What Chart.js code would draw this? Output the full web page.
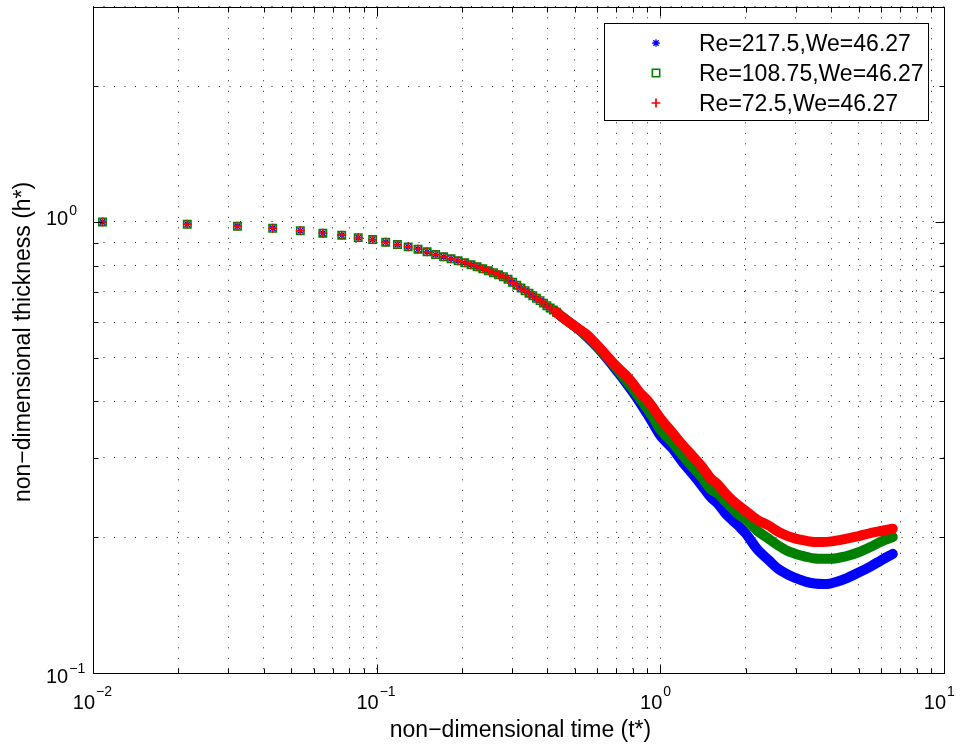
<!DOCTYPE html>
<html>
<head>
<meta charset="utf-8">
<title>non-dimensional thickness vs time</title>
<script src="https://cdn.jsdelivr.net/npm/chart.js@4.4.1/dist/chart.umd.min.js"></script>
<style>
html,body{margin:0;padding:0;background:#ffffff;overflow:hidden;}
#wrap{width:966px;height:747px;}
canvas{display:block;}
</style>
</head>
<body>
<div id="wrap"><canvas id="chart" width="966" height="747"></canvas></div>
<script>
// ---------------- data ----------------
const tStar = [
  0.0108, 0.0215, 0.0323, 0.0430, 0.0538, 0.0646, 0.0753, 0.0861, 0.0968, 0.1076,
  0.1184, 0.1291, 0.1399, 0.1506, 0.1614, 0.1722, 0.1829, 0.1937, 0.2044, 0.2152,
  0.2260, 0.2367, 0.2475, 0.2582, 0.2690, 0.2798, 0.2905, 0.3013, 0.3120, 0.3228,
  0.3336, 0.3443, 0.3551, 0.3658, 0.3766, 0.3874, 0.3981, 0.4089, 0.4196, 0.4304,
  0.45, 0.50,
  0.55, 0.60, 0.65, 0.70, 0.75, 0.80, 0.85, 0.90, 0.95, 1.00,
  1.1, 1.2, 1.3, 1.4, 1.5, 1.6, 1.7, 1.8, 1.9, 2.0,
  2.2, 2.4, 2.6, 2.8, 3.0,
  3.25, 3.5, 3.75, 4.0,
  4.5, 5.0, 5.5, 6.0, 6.6
];

const hRe217 = [
  1.000, 0.9884, 0.9784, 0.9685, 0.9567, 0.9442, 0.9347, 0.9233, 0.9140, 0.9020,
  0.8910, 0.8806, 0.8705, 0.8586, 0.8469, 0.8371, 0.8286, 0.8202, 0.8120, 0.8036,
  0.7956, 0.7875, 0.7796, 0.7717, 0.7638, 0.7561, 0.7465, 0.7352, 0.7241, 0.7139,
  0.7042, 0.6953, 0.6865, 0.6775, 0.6693, 0.6608, 0.6522, 0.6449, 0.6378, 0.6310,
  0.6163, 0.5867,
  0.5573, 0.5270, 0.4971, 0.4689, 0.4434, 0.4193, 0.3965, 0.3749, 0.3545, 0.3361,
  0.3153, 0.2932, 0.2760, 0.2604, 0.2461, 0.2368, 0.2256, 0.2177, 0.2110, 0.2040,
  0.1878, 0.1784, 0.1702, 0.1656, 0.1624,
  0.1594, 0.1579, 0.1575, 0.1581,
  0.1619, 0.1670, 0.1722, 0.1778, 0.1837
];

const hRe108 = [
  1.000, 0.9884, 0.9784, 0.9685, 0.9567, 0.9442, 0.9347, 0.9233, 0.9140, 0.9020,
  0.8910, 0.8806, 0.8705, 0.8586, 0.8469, 0.8371, 0.8286, 0.8202, 0.8120, 0.8036,
  0.7956, 0.7875, 0.7796, 0.7717, 0.7638, 0.7561, 0.7465, 0.7352, 0.7241, 0.7139,
  0.7042, 0.6953, 0.6865, 0.6775, 0.6693, 0.6608, 0.6522, 0.6449, 0.6378, 0.6310,
  0.6163, 0.5867,
  0.5593, 0.5297, 0.5009, 0.4737, 0.4491, 0.4258, 0.4047, 0.3846, 0.3655, 0.3465,
  0.3248, 0.3034, 0.2861, 0.2717, 0.2560, 0.2497, 0.2396, 0.2310, 0.2238, 0.2193,
  0.2066, 0.1988, 0.1919, 0.1867, 0.1837,
  0.1812, 0.1794, 0.1791, 0.1791,
  0.1814, 0.1852, 0.1902, 0.1956, 0.2001
];

const hRe72 = [
  1.000, 0.9884, 0.9784, 0.9685, 0.9567, 0.9442, 0.9347, 0.9233, 0.9140, 0.9020,
  0.8910, 0.8806, 0.8705, 0.8586, 0.8469, 0.8371, 0.8286, 0.8202, 0.8120, 0.8036,
  0.7956, 0.7875, 0.7796, 0.7717, 0.7638, 0.7561, 0.7465, 0.7352, 0.7241, 0.7139,
  0.7042, 0.6953, 0.6865, 0.6775, 0.6693, 0.6608, 0.6522, 0.6449, 0.6378, 0.6310,
  0.6163, 0.5867,
  0.5630, 0.5324, 0.5035, 0.4785, 0.4595, 0.4389, 0.4172, 0.4026, 0.3846, 0.3673,
  0.3417, 0.3200, 0.3027, 0.2870, 0.2709, 0.2612, 0.2499, 0.2410, 0.2345, 0.2287,
  0.2185, 0.2126, 0.2058, 0.2014, 0.1986,
  0.1965, 0.1952, 0.1952, 0.1958,
  0.1984, 0.2012, 0.2043, 0.2065, 0.2089
];

const seriesLabels = ['Re=217.5,We=46.27', 'Re=108.75,We=46.27', 'Re=72.5,We=46.27'];

// grid / tick positions (log axes)
const xGrid = [0.01,0.02,0.03,0.04,0.05,0.06,0.07,0.08,0.09,
               0.1,0.2,0.3,0.4,0.5,0.6,0.7,0.8,0.9,
               1,2,3,4,5,6,7,8,9,10];
const yGrid = [0.1,0.2,0.3,0.4,0.5,0.6,0.7,0.8,0.9,1,2,3];
const xMajor = [0.01, 0.1, 1, 10];
const xMajorExp = ['\u22122', '\u22121', '0', '1'];
const yMajor = [0.1, 1];
const yMajorExp = ['\u22121', '0'];
const xTitle = 'non\u2212dimensional time (t*)';
const yTitle = 'non\u2212dimensional thickness (h*)';

// ---------------- styling ----------------
const FONT = "'Liberation Sans', Arial, Helvetica, sans-serif";
const bandStartT = 0.43;   // from here on the markers merge into a solid band
const lastMarkerT = 0.44;
const styles = [
  {color: '#0000ff', pointStyle: 'star',  radius: 3.8, pw: 1.3, lw: 10},
  {color: '#008000', pointStyle: 'rect',  radius: 5.2, pw: 1.6, lw: 10},
  {color: '#ff0000', pointStyle: 'cross', radius: 4.4, pw: 1.7, lw: 10}
];
const seriesValues = [hRe217, hRe108, hRe72];

const datasets = seriesValues.map((vals, i) => {
  const s = styles[i];
  return {
    label: seriesLabels[i],
    data: tStar.map((t, k) => ({x: t, y: vals[k]})),
    order: 3 - i,
    showLine: true,
    cubicInterpolationMode: 'monotone',
    borderColor: s.color,
    borderWidth: s.lw,
    borderCapStyle: 'round',
    borderJoinStyle: 'round',
    segment: {
      borderColor: ctx => (ctx.p0.parsed.x >= bandStartT ? s.color : 'rgba(0,0,0,0)')
    },
    pointStyle: s.pointStyle,
    pointRadius: ctx => (ctx.raw && ctx.raw.x > lastMarkerT ? 0 : s.radius),
    pointHoverRadius: 0,
    pointBorderColor: s.color,
    pointBackgroundColor: 'rgba(0,0,0,0)',
    pointBorderWidth: s.pw
  };
});

function drawMarker(ctx, style, x, y) {
  ctx.save();
  ctx.strokeStyle = style.color;
  ctx.fillStyle = 'rgba(0,0,0,0)';
  ctx.lineWidth = style.pw;
  if (Chart.helpers && Chart.helpers.drawPoint) {
    Chart.helpers.drawPoint(ctx, {pointStyle: style.pointStyle, radius: style.radius, borderWidth: style.pw, rotation: 0}, x, y);
  }
  ctx.restore();
}

const matlabFrame = {
  id: 'matlabFrame',
  afterDatasetsDraw(chart) {
    const {ctx, chartArea: a, scales: {x, y}} = chart;
    const L = Math.round(a.left) + 0.5, R = Math.round(a.right) + 0.5;
    const T = Math.round(a.top) + 0.5, B = Math.round(a.bottom) + 0.5;
    ctx.save();
    ctx.strokeStyle = '#000';
    ctx.lineWidth = 1;
    ctx.setLineDash([]);
    ctx.beginPath();
    xGrid.forEach(v => {
      const px = Math.round(x.getPixelForValue(v)) + 0.5;
      const len = xMajor.includes(v) ? 9 : 5;
      ctx.moveTo(px, B); ctx.lineTo(px, B - len);
      ctx.moveTo(px, T); ctx.lineTo(px, T + len);
    });
    yGrid.forEach(v => {
      const py = Math.round(y.getPixelForValue(v)) + 0.5;
      const len = yMajor.includes(v) ? 9 : 5;
      ctx.moveTo(L, py); ctx.lineTo(L + len, py);
      ctx.moveTo(R, py); ctx.lineTo(R - len, py);
    });
    ctx.stroke();
    ctx.strokeRect(L, T, R - L, B - T);

    // tick labels: "10" with a superscript exponent
    ctx.fillStyle = '#000';
    ctx.textBaseline = 'alphabetic';
    const baseFont = '20px ' + FONT, expFont = '14px ' + FONT;
    xMajor.forEach((v, i) => {
      const px = x.getPixelForValue(v);
      ctx.font = baseFont; ctx.textAlign = 'right';
      ctx.fillText('10', px + 2, 709);
      ctx.font = expFont; ctx.textAlign = 'left';
      ctx.fillText(xMajorExp[i], px + 3, 696);
    });
    yMajor.forEach((v, i) => {
      const py = y.getPixelForValue(v);
      const base = py + (v < 0.5 ? 10 : 3);
      ctx.font = baseFont; ctx.textAlign = 'left';
      const wb = ctx.measureText('10').width;
      ctx.fillText('10', 46, base);
      ctx.font = expFont;
      ctx.fillText(yMajorExp[i], 46 + wb + 1, base - 10);
    });

    // axis titles
    ctx.font = '23px ' + FONT;
    ctx.textAlign = 'center';
    ctx.fillText(xTitle, (a.left + a.right) / 2 + 2, 737);
    ctx.save();
    ctx.translate(30, (a.top + a.bottom) / 2 + 2);
    ctx.rotate(-Math.PI / 2);
    ctx.fillText(yTitle, 0, 0);
    ctx.restore();
    ctx.restore();
  },
  afterDraw(chart) {
    const {ctx} = chart;
    ctx.save();
    // legend box
    ctx.fillStyle = '#fff';
    ctx.fillRect(604, 23, 324, 97);
    ctx.strokeStyle = '#000';
    ctx.lineWidth = 1;
    ctx.strokeRect(604.5, 23.5, 324, 97);
    ctx.font = '23px ' + FONT;
    ctx.textAlign = 'left';
    ctx.textBaseline = 'alphabetic';
    chart.data.datasets.forEach((ds, i) => {
      const yy = 43 + i * 30;
      drawMarker(ctx, styles[i], 656, yy);
      ctx.fillStyle = '#000';
      ctx.fillText(ds.label, 699, yy + 8);
    });
    ctx.restore();
  }
};

const gridOpts = {color: 'rgba(0,0,0,0.85)', lineWidth: 1, drawTicks: false};

new Chart(document.getElementById('chart'), {
  type: 'scatter',
  data: {datasets},
  options: {
    responsive: false,
    animation: false,
    devicePixelRatio: 1,
    layout: {padding: {left: 93, top: 4, right: 22, bottom: 74}},
    plugins: {legend: {display: false}, tooltip: {enabled: false}},
    events: [],
    scales: {
      x: {
        type: 'logarithmic', min: 0.01, max: 10,
        ticks: {display: false, autoSkip: false},
        grid: gridOpts,
        border: {display: false, dash: [1, 9.5]},
        afterBuildTicks: s => { s.ticks = xGrid.map(v => ({value: v})); }
      },
      y: {
        type: 'logarithmic', min: 0.1, max: 3,
        ticks: {display: false, autoSkip: false},
        grid: gridOpts,
        border: {display: false, dash: [1, 9.5]},
        afterBuildTicks: s => { s.ticks = yGrid.map(v => ({value: v})); }
      }
    }
  },
  plugins: [matlabFrame]
});
</script>
</body>
</html>
